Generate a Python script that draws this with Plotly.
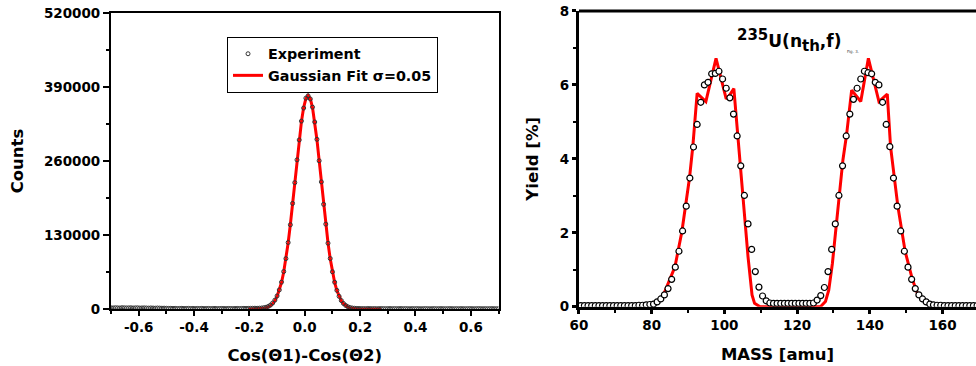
import plotly.graph_objects as go

# ---------------- Left panel data ----------------
cos_diff = [
    -0.700, -0.692, -0.684, -0.676, -0.668, -0.660, -0.652, -0.644, -0.636, -0.628,
    -0.620, -0.612, -0.604, -0.596, -0.588, -0.580, -0.572, -0.564, -0.556, -0.548,
    -0.540, -0.532, -0.524, -0.516, -0.508, -0.500, -0.492, -0.484, -0.476, -0.468,
    -0.460, -0.452, -0.444, -0.436, -0.428, -0.420, -0.412, -0.404, -0.396, -0.388,
    -0.380, -0.372, -0.364, -0.356, -0.348, -0.340, -0.332, -0.324, -0.316, -0.308,
    -0.300, -0.292, -0.284, -0.276, -0.268, -0.260, -0.252, -0.244, -0.236, -0.228,
    -0.220, -0.212, -0.204, -0.196, -0.188, -0.180, -0.172, -0.164, -0.156, -0.148,
    -0.140, -0.132, -0.124, -0.116, -0.108, -0.100, -0.092, -0.084, -0.076, -0.068,
    -0.060, -0.052, -0.044, -0.036, -0.028, -0.020, -0.012, -0.004, 0.004, 0.012,
    0.020, 0.028, 0.036, 0.044, 0.052, 0.060, 0.068, 0.076, 0.084, 0.092,
    0.100, 0.108, 0.116, 0.124, 0.132, 0.140, 0.148, 0.156, 0.164, 0.172,
    0.180, 0.188, 0.196, 0.204, 0.212, 0.220, 0.228, 0.236, 0.244, 0.252,
    0.260, 0.268, 0.276, 0.284, 0.292, 0.300, 0.308, 0.316, 0.324, 0.332,
    0.340, 0.348, 0.356, 0.364, 0.372, 0.380, 0.388, 0.396, 0.404, 0.412,
    0.420, 0.428, 0.436, 0.444, 0.452, 0.460, 0.468, 0.476, 0.484, 0.492,
    0.500, 0.508, 0.516, 0.524, 0.532, 0.540, 0.548, 0.556, 0.564, 0.572,
    0.580, 0.588, 0.596, 0.604, 0.612, 0.620, 0.628, 0.636, 0.644, 0.652,
    0.660, 0.668, 0.676, 0.684, 0.692, 0.700,
]
counts_exp = [
    2100, 1900, 2200, 2000, 1800, 2300, 2100, 1900, 2000, 2200,
    1800, 2000, 2100, 1700, 1900, 2000, 1800, 1600, 1900, 1700,
    1500, 1800, 1600, 1400, 1500,
    1300, 1100, 1200, 1000, 1100, 900, 1000, 1200, 900, 1000,
    1100, 900, 1000, 800, 1000, 900, 1100, 800, 900, 1000,
    800, 900, 1000, 800, 900, 1000, 900, 800, 1000, 900,
    800, 900, 1000, 900, 1000, 1100, 1000, 1100, 1200, 1300,
    1400, 1300, 1500, 1700, 2300, 3100, 4500, 6900, 10500, 15600,
    23000, 33500, 47200, 65800, 88500, 116800, 148000, 185500, 222000, 262000,
    297000, 330100, 353000, 370400, 374500, 369000, 354600, 328500, 298100, 260400,
    223300, 183900, 149100, 115600, 88700, 65400, 47100, 32800, 22300, 14900,
    9700, 6200, 3900, 2500, 1700, 1300, 1000, 900, 800,
    800, 700, 900, 800, 700, 800, 600, 700, 800, 700,
    600, 700, 800, 600, 700, 600, 700, 800, 600, 700,
    600, 500, 700, 600, 700, 600, 500, 600, 700, 600,
    500, 600, 700, 500, 600, 700, 600, 500, 600, 700,
    600, 500, 600, 500, 700, 600, 500, 600, 700, 600,
    500, 600, 700, 600, 500, 600, 500, 600, 700, 600,
    500, 600,
]
fit_x = [
    -0.204, -0.196, -0.188, -0.180, -0.172, -0.164, -0.156, -0.148, -0.140, -0.132,
    -0.124, -0.116, -0.108, -0.100, -0.092, -0.084, -0.076, -0.068, -0.060, -0.052,
    -0.044, -0.036, -0.028, -0.020, -0.012, -0.004, 0.004, 0.012, 0.020, 0.028,
    0.036, 0.044, 0.052, 0.060, 0.068, 0.076, 0.084, 0.092, 0.100, 0.108,
    0.116, 0.124, 0.132, 0.140, 0.148, 0.156, 0.164, 0.172, 0.180, 0.188,
    0.196, 0.204, 0.212, 0.220, 0.228, 0.236, 0.244, 0.252, 0.260, 0.268, 0.276,
]
fit_counts = [
    10, 21, 44, 90, 175, 340, 630, 1140, 2010, 3430,
    5700, 9200, 14410, 21930, 32420, 46570, 65000, 88090, 116000, 148400,
    184400, 222600, 261100, 297400, 329200, 353900, 369600, 375000, 369600, 353900,
    329200, 297400, 261100, 222600, 184400, 148400, 116000, 88090, 65000, 46570,
    32420, 21930, 14410, 9200, 5700, 3430, 2010, 1140, 630, 340,
    175, 90, 44, 21, 10, 5, 2, 1, 0, 0, 0,
]
left_xticks = [-0.6, -0.4, -0.2, 0.0, 0.2, 0.4, 0.6]
left_xticktext = ["-0.6", "-0.4", "-0.2", "0.0", "0.2", "0.4", "0.6"]
left_yticks = [0, 130000, 260000, 390000, 520000]
left_yticktext = ["0", "130000", "260000", "390000", "520000"]

# ---------------- Right panel data ----------------
mass = [
    60.5, 61.5, 62.5, 63.5, 64.5, 65.5, 66.5, 67.5, 68.5, 69.5,
    70.5, 71.5, 72.5, 73.5, 74.5, 75.5, 76.5, 77.5, 78.5, 79.5,
    80.5, 81.5, 82.5, 83.5, 84.5, 85.5, 86.5, 87.5, 88.5, 89.5,
    90.5, 91.5, 92.5, 93.5, 94.5, 95.5, 96.5, 97.5, 98.5, 99.5,
    100.5, 101.5, 102.5, 103.5, 104.5, 105.5, 106.5, 107.5, 108.5, 109.5,
    110.5, 111.5, 112.5, 113.5, 114.5, 115.5, 116.5, 117.5, 118.5, 119.5,
    120.5, 121.5, 122.5, 123.5, 124.5, 125.5, 126.5, 127.5, 128.5, 129.5,
    130.5, 131.5, 132.5, 133.5, 134.5, 135.5, 136.5, 137.5, 138.5, 139.5,
    140.5, 141.5, 142.5, 143.5, 144.5, 145.5, 146.5, 147.5, 148.5, 149.5,
    150.5, 151.5, 152.5, 153.5, 154.5, 155.5, 156.5, 157.5, 158.5, 159.5,
    160.5, 161.5, 162.5, 163.5, 164.5, 165.5, 166.5, 167.5, 168.5, 169.5,
]
yield_exp = [
    0.03, 0.03, 0.03, 0.03, 0.03, 0.03, 0.03, 0.03, 0.03, 0.03,
    0.03, 0.03, 0.03, 0.03, 0.03, 0.03, 0.04, 0.04, 0.05, 0.06,
    0.07, 0.13, 0.21, 0.32, 0.49, 0.74, 1.07, 1.50, 2.05, 2.72,
    3.48, 4.32, 4.93, 5.53, 6.00, 6.07, 6.30, 6.31, 6.37, 6.16,
    5.91, 5.65, 5.21, 4.62, 3.81, 3.01, 2.24, 1.55, 0.95, 0.53,
    0.29, 0.16, 0.10, 0.09, 0.09, 0.09, 0.09, 0.09, 0.09, 0.09,
    0.09, 0.09, 0.09, 0.09, 0.10, 0.18, 0.30, 0.52, 0.95, 1.55,
    2.24, 3.01, 3.81, 4.62, 5.21, 5.61, 5.91, 6.16, 6.37, 6.33,
    6.30, 6.07, 6.00, 5.53, 4.93, 4.33, 3.48, 2.72, 2.05, 1.50,
    1.07, 0.74, 0.49, 0.32, 0.21, 0.13, 0.07, 0.05, 0.04, 0.04,
    0.03, 0.03, 0.03, 0.03, 0.03, 0.03, 0.03, 0.03, 0.03, 0.03,
]
fit_mass = [
    83.5, 85.0, 86.4, 88.3, 90.4, 91.3, 92.0, 92.5, 94.9, 97.7,
    100.5, 101.4, 102.6, 104.0, 105.4, 106.5, 107.6, 108.3, 109.8, 126.4,
    127.8, 128.7, 129.7, 130.6, 131.5, 132.6, 133.6, 134.4, 135.0, 137.5,
    139.6, 142.5, 144.8, 145.7, 147.7, 149.7, 151.7, 153.0,
]
fit_yield = [
    0.38, 0.72, 1.08, 2.03, 3.48, 4.32, 5.05, 5.77, 5.55, 6.72,
    5.62, 5.72, 5.90, 4.24, 2.62, 1.35, 0.32, 0.09, 0.0, 0.0,
    0.14, 0.45, 1.17, 2.08, 2.98, 3.97, 4.65, 5.32, 5.86, 5.55,
    6.72, 5.55, 5.75, 4.33, 2.72, 1.50, 0.74, 0.38,
]
right_xticks = [60, 80, 100, 120, 140, 160]
right_yticks = [0, 2, 4, 6, 8]

FONT = "'DejaVu Sans', Verdana, sans-serif"
RED = "#ff0000"

fig = go.Figure()

# Left panel
fig.add_trace(go.Scatter(
    x=fit_x, y=fit_counts, mode="lines", name="Gaussian Fit σ=0.05",
    line=dict(color=RED, width=3), xaxis="x", yaxis="y", legendrank=2,
))
fig.add_trace(go.Scatter(
    x=cos_diff, y=counts_exp, mode="markers", name="Experiment",
    marker=dict(symbol="circle-open", size=4, color="#333333", line=dict(width=1, color="#333333")),
    xaxis="x", yaxis="y", legendrank=1,
))

# Right panel
fig.add_trace(go.Scatter(
    x=fit_mass, y=fit_yield, mode="lines", showlegend=False,
    line=dict(color=RED, width=3), xaxis="x2", yaxis="y2",
))
fig.add_trace(go.Scatter(
    x=mass, y=yield_exp, mode="markers", showlegend=False,
    marker=dict(symbol="circle", size=6, color="white", line=dict(width=1.2, color="black")),
    xaxis="x2", yaxis="y2",
))

tickfont = dict(family=FONT, size=13.5, color="black", weight="bold")
titlefont = dict(family=FONT, size=16.5, color="black", weight="bold")

common = dict(showgrid=False, zeroline=False, automargin=False, tickcolor="black",
              linecolor="black", tickfont=tickfont)

fig.update_layout(
    template="none",
    width=976, height=366,
    margin=dict(l=0, r=0, t=0, b=0, autoexpand=False),
    paper_bgcolor="white", plot_bgcolor="white",
    font=dict(family=FONT, color="black"),
    showlegend=True,
    legend=dict(
        x=0.2326, y=0.899, xanchor="left", yanchor="top",
        bordercolor="black", borderwidth=1, bgcolor="white",
        font=dict(family=FONT, size=14.3, color="black", weight="bold"),
        tracegroupgap=0,
    ),
    xaxis=dict(
        common, domain=[0.1137, 0.5108], range=[-0.7, 0.7], anchor="y",
        showline=True, linewidth=2, mirror=True,
        tickmode="array", tickvals=left_xticks, ticktext=left_xticktext,
        ticks="outside", ticklen=5, tickwidth=2,
        minor=dict(ticks="outside", ticklen=3, tickwidth=1.5, tickcolor="black", tick0=-0.7, dtick=0.1),
        title=dict(text="Cos(Θ1)-Cos(Θ2)", font=titlefont, standoff=15),
    ),
    yaxis=dict(
        common, domain=[0.1557, 0.9645], range=[0, 520000], anchor="x",
        showline=True, linewidth=2, mirror=True,
        tickmode="array", tickvals=left_yticks, ticktext=left_yticktext,
        ticks="outside", ticklen=6, tickwidth=2,
        minor=dict(ticks="outside", ticklen=3, tickwidth=1.5, tickcolor="black", tick0=0, dtick=65000),
        title=dict(text="Counts", font=titlefont, standoff=16),
    ),
    xaxis2=dict(
        common, domain=[0.5932, 1.0], range=[60, 169.2], anchor="y2",
        showline=True, linewidth=3, mirror=False,
        tickmode="array", tickvals=right_xticks,
        ticks="outside", ticklen=4, tickwidth=2.5,
        minor=dict(ticks="outside", ticklen=3, tickwidth=2, tickcolor="black", tick0=60, dtick=10),
        title=dict(text="MASS [amu]", font=titlefont, standoff=17),
    ),
    yaxis2=dict(
        common, domain=[0.162, 0.970], range=[0, 8], anchor="x2",
        showline=True, linewidth=3, mirror=False,
        tickmode="array", tickvals=right_yticks,
        ticks="outside", ticklen=4, tickwidth=2.5,
        minor=dict(ticks="outside", ticklen=3, tickwidth=2, tickcolor="black", tick0=0, dtick=1),
        title=dict(text="Yield [%]", font=titlefont, standoff=18),
    ),
    shapes=[
        dict(type="line", xref="x2 domain", yref="y2 domain", x0=0, x1=1, y0=1, y1=1,
             line=dict(color="black", width=3)),
    ],
    annotations=[
        dict(
            text="<sup><span style='font-size:15px'>235</span></sup>U(n<sub><span style='font-size:15px'>th</span></sub>,f)",
            xref="paper", yref="paper", x=735 / 976, y=1 - 24 / 366,
            xanchor="left", yanchor="top", showarrow=False,
            font=dict(family=FONT, size=17, color="black", weight="bold"),
        ),
        dict(
            text="Fig. 3.", xref="paper", yref="paper", x=845 / 976, y=1 - 47 / 366,
            xanchor="left", yanchor="top", showarrow=False,
            font=dict(family=FONT, size=4, color="#444444"),
        ),
    ],
)

fig.write_html("out.html", config={"displayModeBar": False},
               post_script="document.body.style.margin='0px';")
